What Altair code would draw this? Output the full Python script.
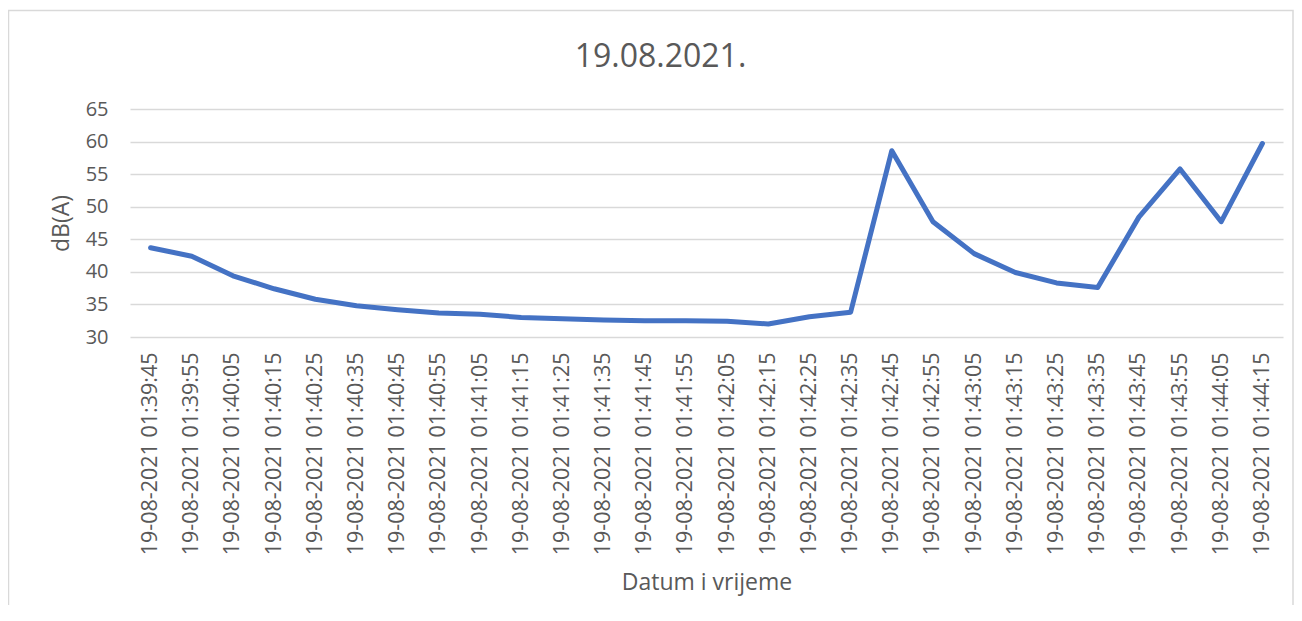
import altair as alt
import pandas as pd

times = ["01:39:45", "01:39:55", "01:40:05", "01:40:15", "01:40:25", "01:40:35",
         "01:40:45", "01:40:55", "01:41:05", "01:41:15", "01:41:25", "01:41:35",
         "01:41:45", "01:41:55", "01:42:05", "01:42:15", "01:42:25", "01:42:35",
         "01:42:45", "01:42:55", "01:43:05", "01:43:15", "01:43:25", "01:43:35",
         "01:43:45", "01:43:55", "01:44:05", "01:44:15"]
labels = ["19-08-2021 " + t for t in times]
values = [43.7, 42.4, 39.4, 37.4, 35.8, 34.8, 34.2, 33.7, 33.5, 33.0, 32.8, 32.6,
          32.5, 32.5, 32.4, 32.0, 33.1, 33.8, 58.6, 47.7, 42.8, 39.9, 38.3, 37.6,
          48.4, 55.8, 47.7, 59.7]
y_ticks = [30, 35, 40, 45, 50, 55, 60, 65]

df = pd.DataFrame({"t": labels, "v": values})

FONT = "Open Sans"
GREY = "#595959"

line = alt.Chart(df).mark_line(color="#4472C4", strokeWidth=5, strokeJoin="round", strokeCap="round").encode(
    x=alt.X("t:N", sort=labels, scale=alt.Scale(type="point", padding=0.5),
            axis=alt.Axis(title="Datum i vrijeme", labelAngle=-90, labelFontSize=21.5,
                          labelColor=GREY, labelFont=FONT, labelPadding=15, labelLimit=400,
                          titleFontSize=23, titleColor=GREY, titleFont=FONT,
                          titleFontWeight="normal", titlePadding=34,
                          domain=False, ticks=False, grid=False, labelOverlap=False)),
    y=alt.Y("v:Q", scale=alt.Scale(domain=[30, 65], nice=False, zero=False),
            axis=alt.Axis(title="dB(A)", values=y_ticks, labelFontSize=20,
                          labelColor=GREY, labelFont=FONT, labelPadding=22,
                          titleFontSize=23, titleColor=GREY, titleFont=FONT,
                          titleFontWeight="normal", titlePadding=12,
                          domain=False, ticks=False, grid=True,
                          gridColor="#d9d9d9", gridWidth=1.5)),
)

frame = alt.Chart(pd.DataFrame({"a": [0]})).mark_rect(
    fill="transparent", stroke="#d9d9d9", strokeWidth=1.5
).encode(
    x=alt.value(-121.5), x2=alt.value(1163),
    y=alt.value(-98.5), y2=alt.value(520),
)

chart = alt.layer(frame, line).properties(
    width=1153, height=228,
    title=alt.TitleParams("19.08.2021.", fontSize=32, color=GREY, font=FONT,
                          fontWeight="normal", anchor="middle", frame="group",
                          dx=-46, baseline="alphabetic", offset=-89),
    autosize=alt.AutoSizeParams(type="none"),
    padding={"left": 122, "top": 101, "right": 11, "bottom": 268},
    background="white",
).configure_view(stroke=None)

chart.save("out.html", embed_options={"renderer": "svg", "actions": False})
